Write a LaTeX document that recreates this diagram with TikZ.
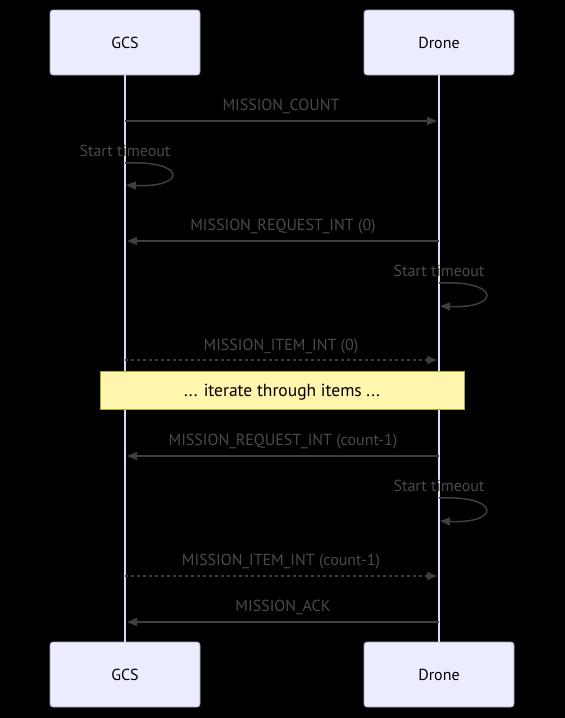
\documentclass[tikz,border=0pt]{standalone}
\usepackage{fontspec}
\setmainfont{PT Sans}
\usetikzlibrary{arrows.meta}
\definecolor{actorfill}{HTML}{ECECFF}
\definecolor{actorline}{HTML}{A3A3C2}
\definecolor{lifeline}{HTML}{DCDAF8}
\definecolor{msgline}{HTML}{3F3F3F}
\definecolor{msgtext}{HTML}{4A4A4A}
\definecolor{notefill}{HTML}{FFF5AD}
\definecolor{noteline}{HTML}{AAAA33}
\tikzset{
  actor/.style={draw=actorline, fill=actorfill, rounded corners=3pt, line width=0.8pt,
    minimum width=150pt, minimum height=65pt, inner sep=0pt, font=\fontsize{16}{19}\selectfont, text=black},
  life/.style={draw=lifeline, line width=1.5pt},
  msg/.style={draw=msgline, line width=1.5pt, -{Triangle[length=10pt,width=8pt]}},
  dmsg/.style={msg, dash pattern=on 3pt off 3pt},
  lbl/.style={text=msgtext, font=\fontsize{16}{19}\selectfont, inner sep=0pt, text depth=0pt},
  notebox/.style={draw=noteline, fill=notefill, line width=0.8pt, minimum width=364pt,
    minimum height=38pt, inner sep=0pt, font=\fontsize{17.5}{20}\selectfont, text=black, text depth=0pt}
}
\begin{document}
\begin{tikzpicture}[x=1pt,y=-1pt]
\fill[black] (0,0) rectangle (565,718);
\useasboundingbox (0,0) rectangle (565,718);
\node[actor] (gcsT) at (125,42.5) {GCS};
\node[actor] (drT) at (439,42.5) {Drone};
\node[actor] (gcsB) at (125,674.5) {GCS};
\node[actor] (drB) at (439,674.5) {Drone};
\draw[life] (gcsT.south) -- (gcsB.north);
\draw[life] (drT.south) -- (drB.north);
% message 1
\coordinate (g1) at (125,121); \coordinate (d1) at (437,121);
\draw[msg] (g1) -- (d1);
\node[lbl] (l1) at (281,105) {MISSION\_COUNT};
% self loop GCS
\coordinate (s1a) at (125,163); \coordinate (s1b) at (126,185);
\node[lbl] (t1) at (125,151) {Start timeout};
\draw[msg] (s1a) .. controls (187,160) and (187,188) .. (s1b);
% message 2
\coordinate (d2) at (439,241); \coordinate (g2) at (127,241);
\draw[msg] (d2) -- (g2);
\node[lbl] (l2) at (283,225) {MISSION\_REQUEST\_INT (0)};
% self loop drone
\coordinate (s2a) at (439,283); \coordinate (s2b) at (440,306);
\node[lbl] (t2) at (439,271) {Start timeout};
\draw[msg] (s2a) .. controls (501,280) and (501,309) .. (s2b);
% message 3
\coordinate (g3) at (125,360); \coordinate (d3) at (437,360);
\draw[dmsg] (g3) -- (d3);
\node[lbl] (l3) at (281,345) {MISSION\_ITEM\_INT (0)};
% note
\node[notebox] (note) at (282,390) {... iterate through items ...};
% message 4
\coordinate (d4) at (439,456); \coordinate (g4) at (127,456);
\draw[msg] (d4) -- (g4);
\node[lbl] (l4) at (283,440) {MISSION\_REQUEST\_INT (count-1)};
% self loop drone 2
\coordinate (s3a) at (439,498); \coordinate (s3b) at (440,521);
\node[lbl] (t3) at (439,486) {Start timeout};
\draw[msg] (s3a) .. controls (501,495) and (501,524) .. (s3b);
% message 5
\coordinate (g5) at (125,576); \coordinate (d5) at (437,576);
\draw[dmsg] (g5) -- (d5);
\node[lbl] (l5) at (281,560) {MISSION\_ITEM\_INT (count-1)};
% message 6
\coordinate (d6) at (439,622); \coordinate (g6) at (127,622);
\draw[msg] (d6) -- (g6);
\node[lbl] (l6) at (283,606) {MISSION\_ACK};
\end{tikzpicture}
\end{document}
